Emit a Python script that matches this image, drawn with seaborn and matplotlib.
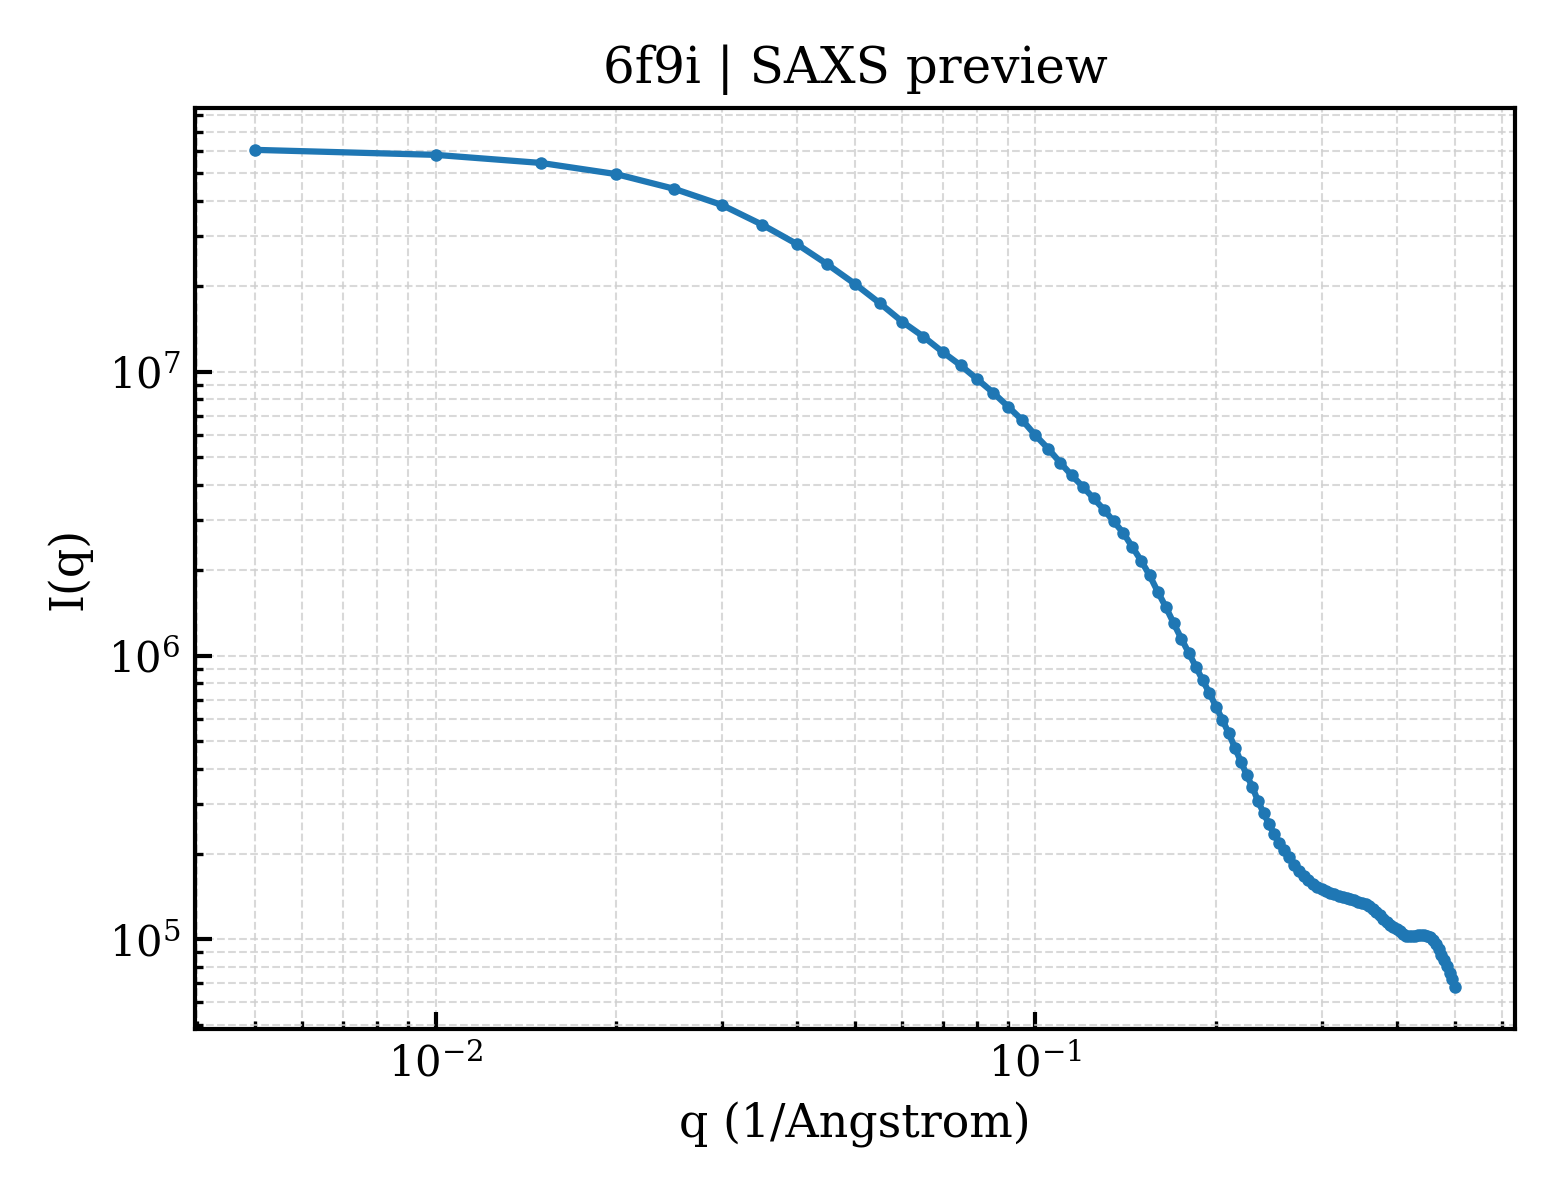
import numpy as np
import pandas as pd
import matplotlib
matplotlib.use("Agg")
import matplotlib.pyplot as plt
import seaborn as sns

# q grid (1/Angstrom) and intensities
q = [0.005, 0.010, 0.015, 0.020, 0.025, 0.030, 0.035, 0.040, 0.045, 0.050,
     0.055, 0.060, 0.065, 0.070, 0.075, 0.080, 0.085, 0.090, 0.095, 0.100,
     0.105, 0.110, 0.115, 0.120, 0.125, 0.130, 0.135, 0.140, 0.145, 0.150,
     0.155, 0.160, 0.165, 0.170, 0.175, 0.180, 0.185, 0.190, 0.195, 0.200,
     0.205, 0.210, 0.215, 0.220, 0.225, 0.230, 0.235, 0.240, 0.245, 0.250,
     0.255, 0.260, 0.265, 0.270, 0.275, 0.280, 0.285, 0.290, 0.295, 0.300,
     0.305, 0.310, 0.315, 0.320, 0.325, 0.330, 0.335, 0.340, 0.345, 0.350,
     0.355, 0.360, 0.365, 0.370, 0.375, 0.380, 0.385, 0.390, 0.395, 0.400,
     0.405, 0.410, 0.415, 0.420, 0.425, 0.430, 0.435, 0.440, 0.445, 0.450,
     0.455, 0.460, 0.465, 0.470, 0.475, 0.480, 0.485, 0.490, 0.495, 0.500]

intensity = [6.05e7, 5.81e7, 5.44e7, 4.97e7, 4.41e7, 3.87e7, 3.30e7, 2.82e7, 2.39e7, 2.04e7,
             1.745e7, 1.50e7, 1.331e7, 1.175e7, 1.054e7, 9.41e6, 8.445e6, 7.54e6, 6.76e6, 5.97e6,
             5.36e6, 4.78e6, 4.31e6, 3.93e6, 3.58e6, 3.27e6, 2.97e6, 2.71e6, 2.415e6, 2.16e6,
             1.917e6, 1.675e6, 1.48e6, 1.30e6, 1.148e6, 1.025e6, 9.15e5, 8.19e5, 7.37e5, 6.61e5,
             5.93e5, 5.32e5, 4.74e5, 4.23e5, 3.80e5, 3.435e5, 3.07e5, 2.79e5, 2.55e5, 2.345e5,
             2.18e5, 2.07e5, 1.95e5, 1.827e5, 1.747e5, 1.67e5, 1.617e5, 1.565e5, 1.527e5, 1.502e5,
             1.478e5, 1.46e5, 1.442e5, 1.425e5, 1.41e5, 1.396e5, 1.385e5, 1.374e5, 1.357e5, 1.341e5,
             1.33e5, 1.309e5, 1.277e5, 1.246e5, 1.216e5, 1.182e5, 1.152e5, 1.126e5, 1.108e5, 1.090e5,
             1.068e5, 1.042e5, 1.03e5, 1.026e5, 1.026e5, 1.03e5, 1.034e5, 1.038e5, 1.034e5, 1.03e5,
             1.017e5, 9.93e4, 9.61e4, 9.23e4, 8.82e4, 8.44e4, 8.04e4, 7.62e4, 7.23e4, 6.79e4]

df = pd.DataFrame({"q": q, "I": intensity})

sns.set_style("ticks")
plt.rcParams["font.family"] = ["DejaVu Serif"]
plt.rcParams["mathtext.fontset"] = "dejavuserif"
plt.rcParams["text.color"] = "black"
plt.rcParams["axes.labelcolor"] = "black"
plt.rcParams["xtick.color"] = "black"
plt.rcParams["ytick.color"] = "black"

fig, ax = plt.subplots(figsize=(5.2, 4), dpi=300)
sns.lineplot(data=df, x="q", y="I", ax=ax, color="#1f77b4", linewidth=1.5,
             marker="o", markersize=3, markeredgewidth=0)
ax.set_xscale("log")
ax.set_yscale("log")

ax.set_title("6f9i | SAXS preview", fontsize=12, color="black")
ax.set_xlabel("q (1/Angstrom)", fontsize=11)
ax.set_ylabel("I(q)", fontsize=11)
ax.tick_params(which="both", direction="in", top=False, right=False, labelsize=10)
ax.tick_params(which="major", length=4, width=1)
ax.tick_params(which="minor", length=2, width=0.8)
ax.grid(True, which="both", linestyle="--", linewidth=0.5, color="#d0d0d0", alpha=0.8)
for s in ax.spines.values():
    s.set_linewidth(1.0)
    s.set_color("black")

plt.subplots_adjust(left=0.125, right=0.971, top=0.91, bottom=0.1425)
fig.savefig("out.png", dpi=300)
